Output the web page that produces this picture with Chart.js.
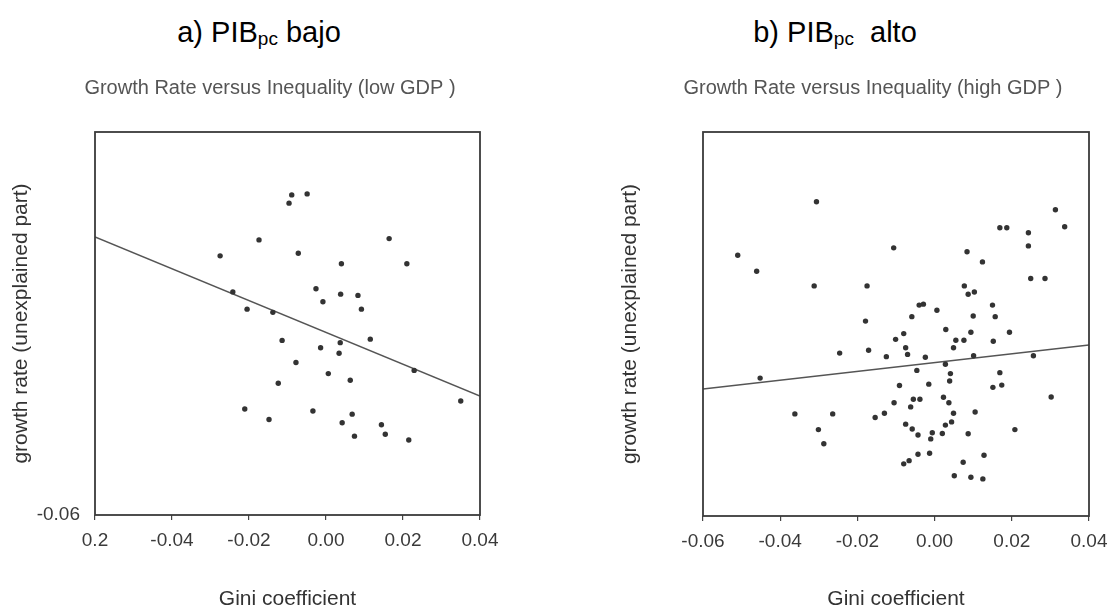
<!DOCTYPE html>
<html>
<head>
<meta charset="utf-8">
<script src="https://cdn.jsdelivr.net/npm/chart.js@4.4.0/dist/chart.umd.min.js"></script>
<style>
  html, body { margin: 0; padding: 0; background: #fff; width: 1110px; height: 609px; overflow: hidden; position: relative; font-family: 'Liberation Sans', Arial, sans-serif; }
  .head { position: absolute; top: 16px; width: 300px; text-align: center; font-size: 29px; line-height: 32px; color: #000; white-space: pre; }
  .head sub { font-size: 19px; vertical-align: -3px; line-height: 0; }
  canvas { position: absolute; top: 0; }
</style>
</head>
<body>
<div class="head" style="left:109px">a) PIB<sub>pc</sub> bajo</div>
<div class="head" style="left:685px">b) PIB<sub>pc</sub>  alto</div>
<canvas id="chartLow" width="540" height="609" style="left:0"></canvas>
<canvas id="chartHigh" width="516" height="609" style="left:615px"></canvas>
<script>
// --- DATA ---
const xTickValues = [-0.06, -0.04, -0.02, 0.00, 0.02, 0.04];
const xTickLabelsLow = ['0.2', '-0.04', '-0.02', '0.00', '0.02', '0.04'];
const xTickLabelsHigh = ['-0.06', '-0.04', '-0.02', '0.00', '0.02', '0.04'];
const yTickValues = [-0.06];
const yTickLabels = ['-0.06'];

// low GDP panel
const giniLow = [-0.0089, -0.0049, -0.0096, -0.0174, 0.0164, -0.0275, -0.0072, 0.0040, 0.0210, -0.0242,
  -0.0026, 0.0038, 0.0083, -0.0008, -0.0205, -0.0138, 0.0092, -0.0114, 0.0037, 0.0115,
  -0.0014, 0.0034, -0.0078, 0.0006, 0.0063, 0.0229, -0.0124, 0.0350, -0.0211, -0.0034,
  0.0068, -0.0148, 0.0042, 0.0144, 0.0074, 0.0154, 0.0215];
const growthLow = [0.0403, 0.0406, 0.0377, 0.0262, 0.0266, 0.0212, 0.0220, 0.0187, 0.0187, 0.0099,
  0.0109, 0.0092, 0.0088, 0.0068, 0.0045, 0.0035, 0.0045, -0.0053, -0.0060, -0.0049,
  -0.0076, -0.0093, -0.0122, -0.0157, -0.0178, -0.0147, -0.0187, -0.0243, -0.0268, -0.0274,
  -0.0284, -0.0301, -0.0311, -0.0317, -0.0353, -0.0347, -0.0365];
const fitLowX = [-0.06, 0.04];
const fitLowY = [0.0271, -0.0227];

// high GDP panel
const giniHigh = [-0.0306, 0.0313, 0.0169, 0.0187, 0.0337, 0.0243, 0.0243, -0.0510, -0.0106, 0.0084,
  0.0124, -0.0461, -0.0312, -0.0175, 0.0077, 0.0249, 0.0286, 0.0087, 0.0103, -0.0040, -0.0029,
  0.0150, 0.0006, -0.0059, 0.0100, 0.0157, -0.0179, 0.0029, 0.0094, 0.0194, -0.0080,
  -0.0101, 0.0055, 0.0076, 0.0152, -0.0075, 0.0049, -0.0246, -0.0171, -0.0070, -0.0125,
  -0.0024, 0.0101, 0.0256, 0.0028, -0.0452, -0.0046, 0.0041, 0.0039, 0.0169, -0.0091,
  -0.0015, 0.0151, 0.0174, 0.0302, -0.0105, -0.0055, -0.0038, 0.0023, 0.0037, -0.0062,
  -0.0362, -0.0264, -0.0130, -0.0154, 0.0049, 0.0105, -0.0301, -0.0075, -0.0058, 0.0044,
  0.0028, 0.0208, -0.0287, -0.0043, -0.0006, -0.0010, 0.0020, 0.0087, -0.0043, -0.0013,
  0.0128, -0.0080, -0.0066, 0.0074, 0.0051, 0.0094, 0.0125];
const growthHigh = [0.0382, 0.0357, 0.0301, 0.0301, 0.0304, 0.0285, 0.0244, 0.0215, 0.0238, 0.0226,
  0.0194, 0.0165, 0.0119, 0.0119, 0.0119, 0.0142, 0.0142, 0.0093, 0.0100, 0.0059, 0.0062,
  0.0059, 0.0043, 0.0023, 0.0025, 0.0023, 0.0009, -0.0017, -0.0026, -0.0026, -0.0030,
  -0.0048, -0.0051, -0.0051, -0.0054, -0.0074, -0.0074, -0.0091, -0.0082, -0.0095, -0.0102,
  -0.0104, -0.0099, -0.0099, -0.0126, -0.0169, -0.0145, -0.0155, -0.0178, -0.0152, -0.0192,
  -0.0188, -0.0198, -0.0191, -0.0228, -0.0246, -0.0235, -0.0235, -0.0229, -0.0246, -0.0259,
  -0.0281, -0.0281, -0.0279, -0.0292, -0.0279, -0.0275, -0.0330, -0.0313, -0.0328, -0.0306,
  -0.0316, -0.0330, -0.0374, -0.0347, -0.0340, -0.0359, -0.0342, -0.0343, -0.0407, -0.0404,
  -0.0410, -0.0437, -0.0427, -0.0432, -0.0474, -0.0479, -0.0484];
const fitHighX = [-0.06, 0.04];
const fitHighY = [-0.0203, -0.0066];

Chart.defaults.font.family = "'Liberation Sans', Arial, sans-serif";

// box around the plot area
const framePlugin = {
  id: 'frame',
  afterDatasetsDraw(chart) {
    const { ctx, chartArea: a } = chart;
    ctx.save();
    ctx.strokeStyle = '#3a3a3a';
    ctx.lineWidth = 1.8;
    ctx.strokeRect(a.left, a.top, a.right - a.left, a.bottom - a.top);
    ctx.restore();
  }
};

const zip = (xs, ys) => xs.map((x, i) => ({ x, y: ys[i] }));

function makePanel(id, cfg) {
  return new Chart(document.getElementById(id), {
    type: 'scatter',
    data: {
      datasets: [
        {
          data: zip(cfg.gini, cfg.growth),
          pointRadius: 2.7,
          pointBackgroundColor: '#333',
          pointBorderWidth: 0
        },
        {
          data: zip(cfg.fitX, cfg.fitY),
          showLine: true,
          borderColor: '#555',
          borderWidth: 1.5,
          pointRadius: 0
        }
      ]
    },
    options: {
      responsive: false,
      animation: false,
      plugins: {
        legend: { display: false },
        tooltip: { enabled: false },
        title: {
          display: true,
          text: cfg.title,
          color: '#555',
          font: { size: 20, weight: 'normal' },
          padding: { top: 76, bottom: 32 }
        }
      },
      scales: {
        x: {
          type: 'linear',
          min: -0.06,
          max: 0.04,
          afterBuildTicks: s => { s.ticks = xTickValues.map(v => ({ value: v })); },
          afterFit: s => { s.height = cfg.xAxisHeight; },
          ticks: {
            callback: (v, i) => cfg.xLabels[i],
            color: '#3a3a3a',
            font: { size: 19 },
            padding: 9,
            maxRotation: 0,
            autoSkip: false
          },
          grid: { display: true, drawOnChartArea: false, tickLength: 5, color: '#444', lineWidth: 1.2 },
          border: { display: false },
          title: { display: true, text: 'Gini coefficient', color: '#333', font: { size: 21 }, padding: { top: 0, bottom: -3 } }
        },
        y: {
          type: 'linear',
          min: -0.06,
          max: 0.06,
          afterBuildTicks: s => { s.ticks = yTickValues.map(v => ({ value: v })); },
          afterFit: s => { s.width = cfg.yAxisWidth; },
          ticks: {
            display: cfg.showYTicks,
            callback: (v, i) => yTickLabels[i],
            color: '#3a3a3a',
            font: { size: 19 },
            padding: 15
          },
          grid: { display: false, drawTicks: false },
          border: { display: false },
          title: { display: true, text: 'growth rate (unexplained part)', color: '#333', font: { size: 21 }, padding: { top: cfg.yTitlePad, bottom: 0 } }
        },
        pad: {
          type: 'linear',
          position: 'right',
          display: true,
          ticks: { display: false },
          grid: { display: false },
          border: { display: false },
          afterFit: s => { s.width = cfg.padRight; }
        }
      }
    },
    plugins: [framePlugin]
  });
}

makePanel('chartLow', {
  title: 'Growth Rate versus Inequality (low GDP )',
  gini: giniLow, growth: growthLow, fitX: fitLowX, fitY: fitLowY,
  xLabels: xTickLabelsLow, showYTicks: true,
  xAxisHeight: 94, yAxisWidth: 95, yTitlePad: 9, padRight: 60
});

makePanel('chartHigh', {
  title: 'Growth Rate versus Inequality (high GDP )',
  gini: giniHigh, growth: growthHigh, fitX: fitHighX, fitY: fitHighY,
  xLabels: xTickLabelsHigh, showYTicks: false,
  xAxisHeight: 93, yAxisWidth: 88, yTitlePad: 3, padRight: 42
});
</script>
</body>
</html>
